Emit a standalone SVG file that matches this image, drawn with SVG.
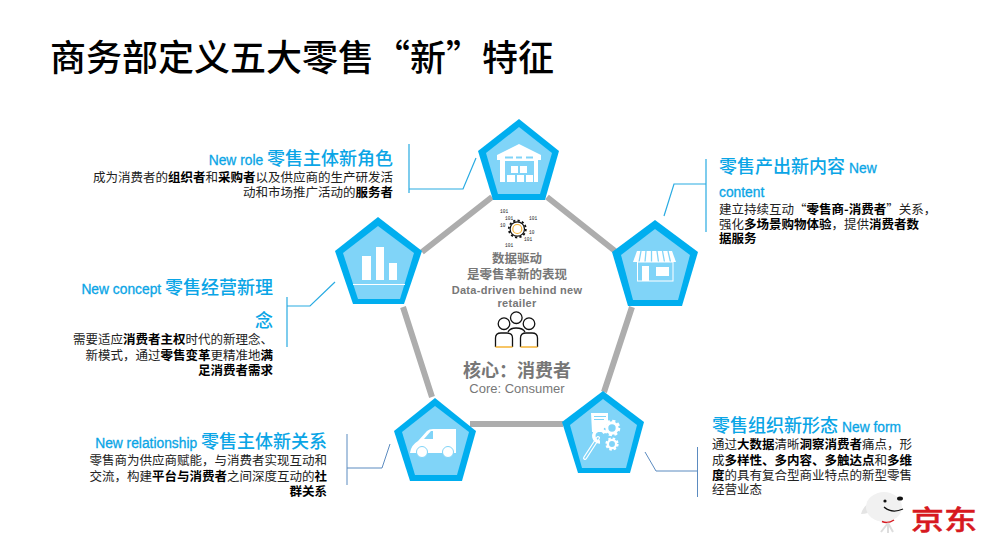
<svg xmlns="http://www.w3.org/2000/svg" xmlns:xlink="http://www.w3.org/1999/xlink" width="1005" height="538" viewBox="0 0 1005 538">
<style>
text{font-family:"Noto Sans CJK SC","Liberation Sans",sans-serif}
.t{font-size:36px;fill:#000;font-weight:500}
.h{font-size:18px;fill:#0aa5e6;font-weight:500}
.en{font-family:"Liberation Sans",sans-serif;font-size:13.800px;fill:#0aa5e6;stroke:#0aa5e6;stroke-width:.3}
.b{font-size:12.500px;fill:#222}
.b tspan{font-weight:700;fill:#000}
.e{text-anchor:end}
.c{text-anchor:middle;fill:#777}
.ce{font-family:"Liberation Sans",sans-serif}
.bin{font-size:4.500px;fill:#222;font-family:"Liberation Mono",monospace}
.o{fill:#00aeef}.i{fill:#80d4f8}.w{fill:#fff}
.link{fill:none;stroke:#adadad;stroke-width:6}
.co{fill:none;stroke:#29abe2;stroke-width:1.200}
.cs{fill:none;stroke:#5b8bc0;stroke-width:1}
.k{fill:none;stroke:#111;stroke-width:1.300}
</style>
<defs>
<g id="gear"><circle r="5.200" fill="none" stroke="#fff" stroke-width="3"/><circle r="6.800" fill="none" stroke="#fff" stroke-width="3" stroke-dasharray="3 2.340"/></g>
</defs>
<rect width="1005" height="538" fill="#fff"/>
<text class="t" x="50" y="71">商务部定义五大零售“新”特征</text>
<g id="connectors">
<path class="link" d="M492 197L422 252M547 197L615 251M403 307L432 397M632 307L604 392M470 424H563"/>
<path class="co" d="M409 144V193M409 189H463L476 158"/>
<path class="co" d="M287 297V347M287 306H310L335 282"/>
<path class="co" d="M706 159V232M706 184H674L664 216"/>
<path class="cs" d="M347 434V485M347 468H382L390 444"/>
<path class="cs" d="M697.500 447V497M697.500 471H656L645 452"/>
</g>
<g id="node-role">
<polygon class="o" points="519,119 559,151 545,200 493,200 478,151"/>
<polygon class="i" points="519,127 552,153 540,194 498,194 486,153"/>
<path class="w" d="M497 155L519 144L541 155V160H538V182H500V160H497Z"/>
<rect class="i" x="505" y="161" width="29" height="21"/>
<path class="i" d="M505 156.500h8v2h-8zM516 156.500h6v2h-6zM526 156.500h7v2h-7z"/>
<path class="w" d="M511 166h7v7h-7zM520 166h7v7h-7zM507 175h8v7h-8zM517 175h7v7h-7zM526 175h7v7h-7z"/>
<text class="e" x="393" y="165"><tspan class="en">New role </tspan><tspan class="h">零售主体新角色</tspan></text>
<text class="b e" x="393" y="182">成为消费者的<tspan>组织者</tspan>和<tspan>采购者</tspan>以及供应商的生产研发活</text>
<text class="b e" x="393" y="197">动和市场推广活动的<tspan>服务者</tspan></text>
</g>
<g id="node-concept">
<polygon class="o" points="378,217 422,251 404,304 353,304 335,251"/>
<polygon class="i" points="378,226 414,253 400,299 358,299 343,253"/>
<path class="w" d="M362 256h9v24h-9zM376 247h8v33h-8zM389 263h8v17h-8z"/>
<path d="M353 284.500H405" stroke="#fff" fill="none"/>
<text class="e" x="273" y="294"><tspan class="en">New concept </tspan><tspan class="h">零售经营新理</tspan></text>
<text class="h e" x="273" y="327">念</text>
<text class="b e" x="273" y="344">需要适应<tspan>消费者主权</tspan>时代的新理念、</text>
<text class="b e" x="273" y="360">新模式，通过<tspan>零售变革</tspan>更精准地<tspan>满</tspan></text>
<text class="b e" x="273" y="375"><tspan>足消费者需求</tspan></text>
</g>
<g id="node-content">
<polygon class="o" points="655,220 698,252 682,306 628,306 612,252"/>
<polygon class="i" points="655,229 690,255 678,300 633,300 621,255"/>
<path class="w" d="M637 251H672L676 262H633Z"/>
<path d="M641 251L639 262M646 251L645 262M651.500 251V262M657 251L658.500 262M662.500 251L664.500 262M668 251L670.500 262" stroke="#80d4f8" stroke-width="1.300" fill="none"/>
<rect x="637.500" y="262" width="35.500" height="19" fill="none" stroke="#fff"/>
<path class="w" d="M642 266h7v15h-7zM656 267h13v9h-13z"/>
<text x="719" y="173"><tspan class="h">零售产出新内容 </tspan><tspan class="en">New</tspan></text>
<text class="en" x="719" y="197">content</text>
<text class="b" x="719" y="214">建立持续互动“<tspan>零售商-消费者</tspan>”关系，</text>
<text class="b" x="719" y="229">强化<tspan>多场景购物体验</tspan>，提供<tspan>消费者数</tspan></text>
<text class="b" x="719" y="243"><tspan>据服务</tspan></text>
</g>
<g id="node-relationship">
<polygon class="o" points="435,398 476,431 462,481 410,481 394,431"/>
<polygon class="i" points="435,406 469,432 457,475 415,475 402,432"/>
<path class="w" d="M410 453Q411 445 418 441L427 431Q429 429 433 429H456V453Z"/>
<path class="i" d="M424 439L431 431H433V439Z"/>
<circle class="w" cx="422" cy="452" r="5.500" stroke="#80d4f8"/>
<circle class="w" cx="448" cy="452" r="5.500" stroke="#80d4f8"/>
<text class="e" x="327" y="448"><tspan class="en">New relationship </tspan><tspan class="h">零售主体新关系</tspan></text>
<text class="b e" x="327" y="465">零售商为供应商赋能，与消费者实现互动和</text>
<text class="b e" x="327" y="481">交流，构建<tspan>平台与消费者</tspan>之间深度互动的<tspan>社</tspan></text>
<text class="b e" x="327" y="496"><tspan>群关系</tspan></text>
</g>
<g id="node-form">
<polygon class="o" points="603,391 644,422 630,473 578,473 562,422"/>
<polygon class="i" points="603,399 637,425 626,468 582,468 570,425"/>
<path class="w" d="M591 413H608V423L604 428L603 432H592Z"/>
<path d="M594 416.500H606M594 419.500H604" stroke="#80d4f8" fill="none"/>
<use xlink:href="#gear" href="#gear" transform="translate(612 428)"/>
<use xlink:href="#gear" href="#gear" transform="translate(612 444) scale(.8)"/>
<path d="M585 458L598 438" stroke="#fff" stroke-width="4" stroke-linecap="round" fill="none"/>
<path d="M585 458L598 438" stroke="#80d4f8" stroke-width="1.500" stroke-linecap="round" fill="none"/>
<path d="M605 433A6 6 0 1 0 600 442" stroke="#fff" stroke-width="3.500" fill="none"/>
<text x="712" y="432"><tspan class="h">零售组织新形态 </tspan><tspan class="en">New form</tspan></text>
<text class="b" x="712" y="449">通过<tspan>大数据</tspan>清晰<tspan>洞察消费者</tspan>痛点，形</text>
<text class="b" x="712" y="465">成<tspan>多样性、多内容、多触达点</tspan>和<tspan>多维</tspan></text>
<text class="b" x="712" y="480"><tspan>度</tspan>的具有复合型商业特点的新型零售</text>
<text class="b" x="712" y="494">经营业态</text>
</g>
<g id="node-core">
<text class="bin" x="500" y="213">101</text>
<text class="bin" x="505" y="220">101</text>
<text class="bin" x="529" y="220">101</text>
<text class="bin" x="500" y="227">10</text>
<text class="bin" x="529" y="234">10</text>
<text class="bin" x="524" y="241">101</text>
<text class="bin" x="505" y="247">101</text>
<circle cx="517.300" cy="229" r="7.200" fill="none" stroke="#111" stroke-width="1.200"/>
<circle cx="517.300" cy="229" r="8.500" fill="none" stroke="#111" stroke-width="1.800" stroke-dasharray="2.200 2.250"/>
<circle cx="517.300" cy="229" r="4.500" fill="none" stroke="#f5b335" stroke-width="1.200"/>
<text class="c" x="517" y="263" style="font-size:12.500px;font-weight:700">数据驱动</text>
<text class="c" x="517" y="279" style="font-size:12.500px;font-weight:700">是零售革新的表现</text>
<text class="c ce" x="517" y="294" style="font-size:11px;font-weight:700;letter-spacing:.3px">Data-driven behind new</text>
<text class="c ce" x="517" y="307" style="font-size:11px;font-weight:700;letter-spacing:.3px">retailer</text>
<circle class="k" cx="516.300" cy="317.700" r="5.800"/>
<circle class="k" cx="504" cy="323.700" r="5.800"/>
<circle class="k" cx="529" cy="323.700" r="5.800"/>
<path class="k" d="M495.500 347V338Q495.500 333 501 333H507Q512.500 333 512.500 338V347M520.500 347V338Q520.500 333 526 333H532Q537.500 333 537.500 338V347M508 332Q510 328 516 328Q523 328 525 332"/>
<path d="M495.500 347h17M520.500 347h17" stroke="#f5b335" stroke-width="1.300" fill="none"/>
<text class="c" x="517" y="377" style="font-size:18px;font-weight:700">核心：消费者</text>
<text class="c ce" x="517" y="393" style="font-size:13px">Core: Consumer</text>
</g>
<g id="logo">
<path d="M871 503Q864 504 861 514Q868 514 874 510Z" fill="#e4e4e4"/>
<ellipse cx="884" cy="507" rx="18" ry="15" fill="#f1f1f1"/>
<circle cx="885" cy="501" r="1.600" fill="#111"/>
<ellipse cx="900" cy="498.500" rx="3" ry="2" fill="#111"/>
<path d="M884 507Q892 514 903 509" fill="none" stroke="#111" stroke-width="1.300"/>
<path d="M882 521.500Q888 524 894 520" fill="none" stroke="#d71920" stroke-width="1.500"/>
<path d="M888 523L881 532M888 523V533M888 523L893 532" stroke="#ddd" stroke-width="2" fill="none"/>
<text transform="translate(911 530) scale(1 .82)" style="font-size:33px;font-weight:500;fill:#d71920;stroke:#d71920;stroke-width:.5">京东</text>
</g>
</svg>
